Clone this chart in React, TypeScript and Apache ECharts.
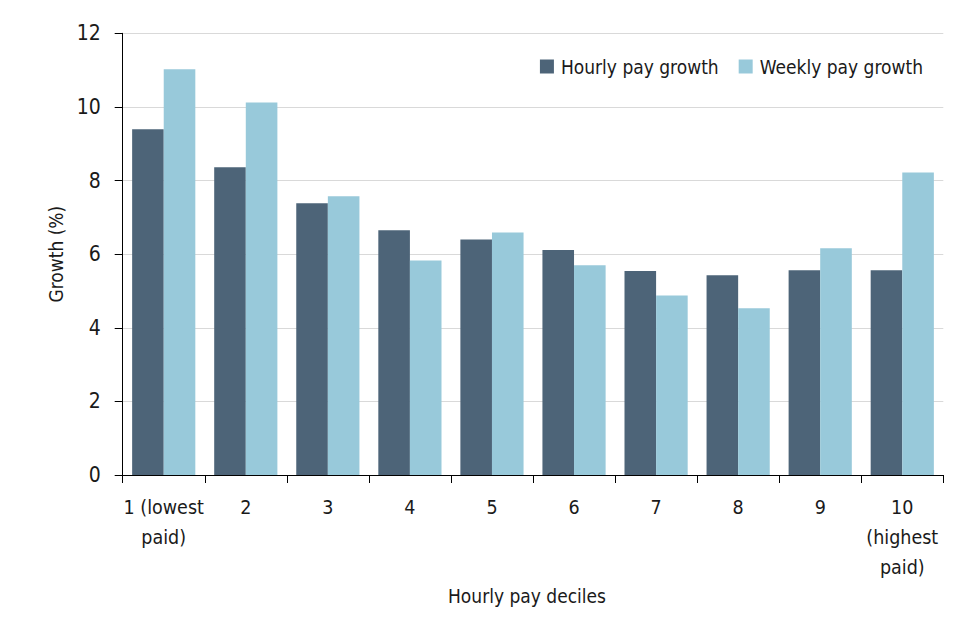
import React, { useEffect, useRef } from "react";
import * as echarts from "echarts";

const categories = [
  "1 (lowest\npaid)",
  "2",
  "3",
  "4",
  "5",
  "6",
  "7",
  "8",
  "9",
  "10\n(highest\npaid)",
];
const hourlyGrowth = [9.39, 8.36, 7.38, 6.65, 6.4, 6.11, 5.54, 5.43, 5.56, 5.56];
const weeklyGrowth = [11.02, 10.12, 7.57, 5.83, 6.59, 5.7, 4.88, 4.53, 6.16, 8.22];
const seriesNames = ["Hourly pay growth", "Weekly pay growth"];
const colors = ["#4d6478", "#98c9da"];

const FONT = "'Liberation Sans Narrow', 'DejaVu Sans Condensed', 'Roboto Condensed', 'Arial Narrow', Roboto, sans-serif";
const TEXT = "#1a1a1a";

export default function App() {
  const ref = useRef<HTMLDivElement>(null);
  useEffect(() => {
    document.body.style.margin = "0";
    const chart = echarts.init(ref.current!, null, { renderer: "svg" });
    chart.setOption({
      animation: false,
      backgroundColor: "#ffffff",
      textStyle: { fontFamily: FONT, color: TEXT },
      legend: {
        data: seriesNames,
        right: 32,
        top: 52,
        itemWidth: 14,
        itemHeight: 14,
        itemGap: 20,
        icon: "rect",
        textStyle: { fontFamily: FONT, fontSize: 19, color: TEXT, padding: [0, 0, 0, 2] },
      },
      grid: { left: 122.7, right: 16.7, top: 33.3, bottom: 165 },
      xAxis: {
        type: "category",
        data: categories,
        name: "Hourly pay deciles",
        nameLocation: "middle",
        nameGap: 110,
        nameTextStyle: { fontFamily: FONT, fontSize: 19, color: TEXT, padding: [0, 12, 0, 0] },
        axisLine: { lineStyle: { color: "#000000", width: 1 } },
        axisTick: { show: true, length: 8, lineStyle: { color: "#000000" } },
        axisLabel: {
          interval: 0,
          margin: 17,
          fontFamily: FONT,
          fontSize: 19.5,
          lineHeight: 30,
          color: TEXT,
        },
      },
      yAxis: {
        type: "value",
        min: 0,
        max: 12,
        interval: 2,
        name: "Growth (%)",
        nameLocation: "middle",
        nameGap: 51,
        nameTextStyle: { fontFamily: FONT, fontSize: 19, color: TEXT },
        axisLine: { show: true, lineStyle: { color: "#000000", width: 1 } },
        axisTick: { show: true, length: 8, lineStyle: { color: "#000000" } },
        axisLabel: { margin: 22, fontFamily: FONT, fontSize: 21, color: TEXT },
        splitLine: { show: true, lineStyle: { color: "#d9d9d9", width: 1 } },
      },
      series: [
        {
          name: seriesNames[0],
          type: "bar",
          data: hourlyGrowth,
          itemStyle: { color: colors[0] },
          barGap: "0%",
          barCategoryGap: "23%",
        },
        {
          name: seriesNames[1],
          type: "bar",
          data: weeklyGrowth,
          itemStyle: { color: colors[1] },
          barGap: "0%",
          barCategoryGap: "23%",
        },
      ],
    });
    return () => chart.dispose();
  }, []);
  return <div ref={ref} style={{ width: 960, height: 640 }} />;
}
